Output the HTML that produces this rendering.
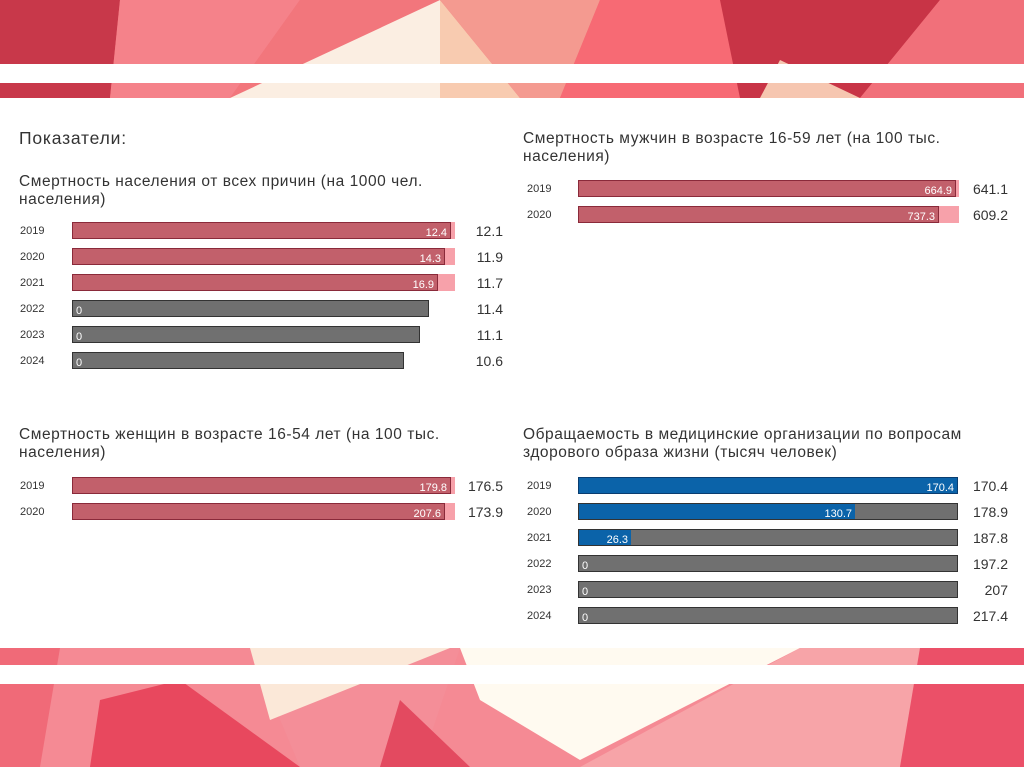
<!DOCTYPE html>
<html><head><meta charset="utf-8"><style>
html,body{margin:0;padding:0;background:#fff}
svg{display:block}
text{font-family:"Liberation Sans",sans-serif}
.t{font-size:15.5px;fill:#333;letter-spacing:0.55px}
.y{font-size:11px;fill:#333}
.v{font-size:14px;fill:#333;text-anchor:end}
.w{font-size:11px;fill:#fff}
.r{stroke:#8a2a3a;stroke-width:1;fill:#c2606b}
.p{fill:#f7a1aa}
.g{fill:#707070;stroke:#333;stroke-width:1}
.b{fill:#0b63a9;stroke:#0a3d70;stroke-width:1}
</style></head><body>
<svg width="1024" height="767" viewBox="0 0 1024 767" xmlns="http://www.w3.org/2000/svg">
<rect x="0" y="0" width="1024" height="98" fill="#f06a72"/>
<polygon points="0,0 120,0 110,98 0,98" fill="#c8384a"/>
<polygon points="120,0 300,0 230,98 110,98" fill="#f5828a"/>
<polygon points="300,0 440,0 430,30 230,98" fill="#f2767c"/>
<polygon points="440,0 230,98 440,98" fill="#fbeee2"/>
<polygon points="440,0 520,98 440,98" fill="#f8cbb0"/>
<polygon points="440,0 600,0 560,98 520,98" fill="#f49a90"/>
<polygon points="600,0 720,0 740,98 560,98" fill="#f76a74"/>
<polygon points="720,0 940,0 860,98 740,98" fill="#c83446"/>
<polygon points="940,0 1024,0 1024,98 860,98" fill="#f1707a"/>
<polygon points="780,60 860,98 760,98" fill="#f6c6b0"/>
<rect x="0" y="64" width="1024" height="19" fill="#fff"/>
<rect x="0" y="648" width="1024" height="119" fill="#f58a94"/>
<polygon points="0,648 60,648 40,767 0,767" fill="#f06a78"/>
<polygon points="100,700 180,680 300,767 90,767" fill="#e8485e"/>
<polygon points="250,648 460,648 420,767 300,767" fill="#f48e98"/>
<polygon points="250,648 450,648 270,720" fill="#fbe8d8"/>
<polygon points="460,648 800,648 580,760 480,700" fill="#fffaf0"/>
<polygon points="400,700 470,767 380,767" fill="#e34a60"/>
<polygon points="800,648 920,648 900,767 580,767" fill="#f7a4a8"/>
<polygon points="920,648 1024,648 1024,767 900,767" fill="#eb5068"/>
<rect x="0" y="665" width="1024" height="19" fill="#fff"/>

<text x="19" y="144" style="font-size:17.5px;fill:#333;letter-spacing:0.8px">Показатели:</text>
<text class="t" x="19" y="186">Смертность населения от всех причин (на 1000 чел.</text>
<text class="t" x="19" y="204">населения)</text>
<g>
<text class="y" x="20" y="234">2019</text><rect class="p" x="72" y="222" width="383" height="17"/><rect class="r" x="72.5" y="222.5" width="378" height="16"/><text class="w" x="447" y="236" text-anchor="end">12.4</text><text class="v" x="503" y="236">12.1</text>
<text class="y" x="20" y="260">2020</text><rect class="p" x="72" y="248" width="383" height="17"/><rect class="r" x="72.5" y="248.5" width="372" height="16"/><text class="w" x="441" y="262" text-anchor="end">14.3</text><text class="v" x="503" y="262">11.9</text>
<text class="y" x="20" y="286">2021</text><rect class="p" x="72" y="274" width="383" height="17"/><rect class="r" x="72.5" y="274.5" width="365" height="16"/><text class="w" x="434" y="288" text-anchor="end">16.9</text><text class="v" x="503" y="288">11.7</text>
<text class="y" x="20" y="312">2022</text><rect class="g" x="72.5" y="300.5" width="356" height="16"/><text class="w" x="76" y="314">0</text><text class="v" x="503" y="314">11.4</text>
<text class="y" x="20" y="338">2023</text><rect class="g" x="72.5" y="326.5" width="347" height="16"/><text class="w" x="76" y="340">0</text><text class="v" x="503" y="340">11.1</text>
<text class="y" x="20" y="364">2024</text><rect class="g" x="72.5" y="352.5" width="331" height="16"/><text class="w" x="76" y="366">0</text><text class="v" x="503" y="366">10.6</text>
</g>

<text class="t" x="523" y="143">Смертность мужчин в возрасте 16-59 лет (на 100 тыс.</text>
<text class="t" x="523" y="161">населения)</text>
<text class="y" x="527" y="192">2019</text><rect class="p" x="578" y="180" width="381" height="17"/><rect class="r" x="578.5" y="180.5" width="377" height="16"/><text class="w" x="952" y="194" text-anchor="end">664.9</text><text class="v" x="1008" y="194">641.1</text>
<text class="y" x="527" y="218">2020</text><rect class="p" x="578" y="206" width="381" height="17"/><rect class="r" x="578.5" y="206.5" width="360" height="16"/><text class="w" x="935" y="220" text-anchor="end">737.3</text><text class="v" x="1008" y="220">609.2</text>

<text class="t" x="19" y="439">Смертность женщин в возрасте 16-54 лет (на 100 тыс.</text>
<text class="t" x="19" y="457">населения)</text>
<text class="y" x="20" y="489">2019</text><rect class="p" x="72" y="477" width="383" height="17"/><rect class="r" x="72.5" y="477.5" width="378" height="16"/><text class="w" x="447" y="491" text-anchor="end">179.8</text><text class="v" x="503" y="491">176.5</text>
<text class="y" x="20" y="515">2020</text><rect class="p" x="72" y="503" width="383" height="17"/><rect class="r" x="72.5" y="503.5" width="372" height="16"/><text class="w" x="441" y="517" text-anchor="end">207.6</text><text class="v" x="503" y="517">173.9</text>

<text class="t" x="523" y="439">Обращаемость в медицинские организации по вопросам</text>
<text class="t" x="523" y="457">здорового образа жизни (тысяч человек)</text>
<text class="y" x="527" y="489">2019</text><rect class="b" x="578.5" y="477.5" width="379" height="16"/><text class="w" x="954" y="491" text-anchor="end">170.4</text><text class="v" x="1008" y="491">170.4</text>
<text class="y" x="527" y="515">2020</text><rect class="g" x="578.5" y="503.5" width="379" height="16"/><rect x="579" y="504" width="276" height="15" fill="#0b63a9"/><text class="w" x="852" y="517" text-anchor="end">130.7</text><text class="v" x="1008" y="517">178.9</text>
<text class="y" x="527" y="541">2021</text><rect class="g" x="578.5" y="529.5" width="379" height="16"/><rect x="579" y="530" width="52" height="15" fill="#0b63a9"/><text class="w" x="628" y="543" text-anchor="end">26.3</text><text class="v" x="1008" y="543">187.8</text>
<text class="y" x="527" y="567">2022</text><rect class="g" x="578.5" y="555.5" width="379" height="16"/><text class="w" x="582" y="569">0</text><text class="v" x="1008" y="569">197.2</text>
<text class="y" x="527" y="593">2023</text><rect class="g" x="578.5" y="581.5" width="379" height="16"/><text class="w" x="582" y="595">0</text><text class="v" x="1008" y="595">207</text>
<text class="y" x="527" y="619">2024</text><rect class="g" x="578.5" y="607.5" width="379" height="16"/><text class="w" x="582" y="621">0</text><text class="v" x="1008" y="621">217.4</text>
</svg>
</body></html>
